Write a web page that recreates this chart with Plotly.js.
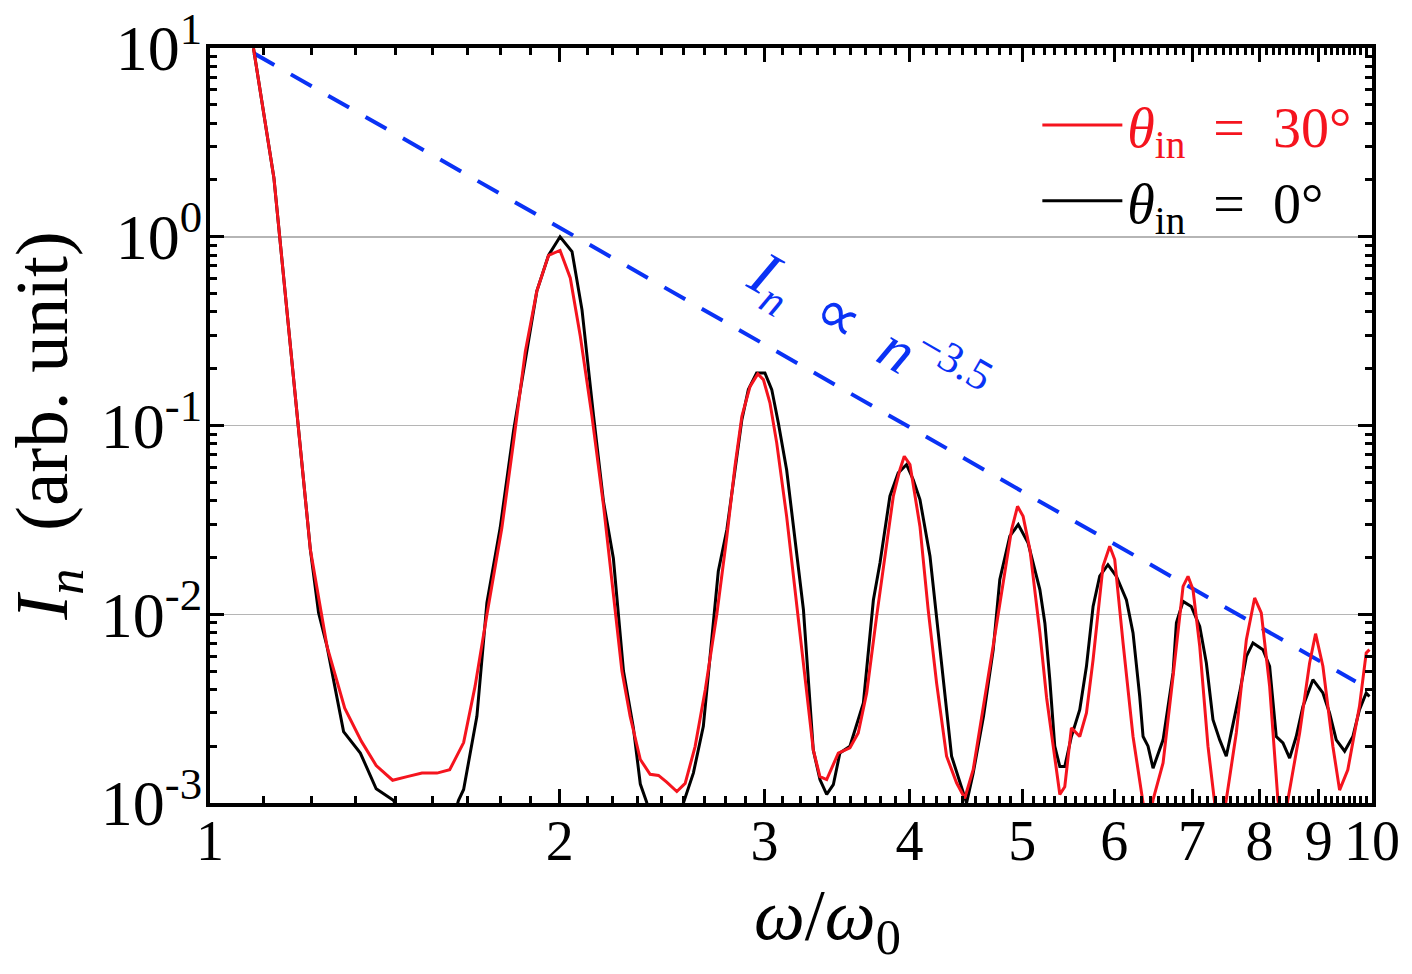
<!DOCTYPE html>
<html>
<head>
<meta charset="utf-8">
<script src="https://cdn.plot.ly/plotly-3.0.1.min.js"></script>
<style>
  html, body { margin: 0; padding: 0; background: #fff; }
  #chart { width: 1412px; height: 974px; }
</style>
</head>
<body>
<div id="chart"></div>
<script>
// harmonic spectrum, theta_in = 0 deg (black)
var x_0deg = [1.090, 1.135, 1.220, 1.240, 1.261, 1.303, 1.347, 1.390, 1.439, 1.478,
  1.522, 1.568, 1.608, 1.636, 1.653, 1.697, 1.731, 1.777, 1.825, 1.875,
  1.911, 1.956, 2.001, 2.049, 2.090, 2.138, 2.181, 2.224, 2.269, 2.314,
  2.346, 2.377, 2.430, 2.510, 2.555, 2.606, 2.658, 2.738, 2.785, 2.869,
  2.906, 2.954, 3.003, 3.044, 3.084, 3.135, 3.241, 3.305, 3.349, 3.394,
  3.439, 3.484, 3.554, 3.650, 3.723, 3.772, 3.847, 3.911, 3.976, 4.029,
  4.083, 4.165, 4.276, 4.347, 4.478, 4.537, 4.631, 4.721, 4.783, 4.879,
  4.961, 5.058, 5.178, 5.230, 5.281, 5.333, 5.387, 5.440, 5.512, 5.604,
  5.679, 5.754, 5.830, 5.926, 6.026, 6.147, 6.228, 6.311, 6.353, 6.416,
  6.480, 6.610, 6.742, 6.787, 6.877, 6.990, 7.108, 7.202, 7.297, 7.395,
  7.492, 7.591, 7.692, 7.796, 7.899, 8.057, 8.164, 8.272, 8.382, 8.494,
  8.606, 8.721, 8.895, 9.073, 9.193, 9.316, 9.472, 9.628, 9.755, 9.886, 9.950];
var y_0deg = [9.97, 2.05, 0.022, 0.0102, 0.00676, 0.00239, 0.00184, 0.00119, 0.00103, 0.0007,
  0.00055, 0.00055, 0.0007, 0.00103, 0.00118, 0.00288, 0.0115, 0.0286, 0.094, 0.259,
  0.515, 0.798, 1.0, 0.835, 0.41, 0.1135, 0.0394, 0.0198, 0.0050, 0.0025,
  0.00126, 0.00100, 0.0007, 0.0007, 0.00100, 0.00144, 0.00255, 0.0169, 0.0281, 0.1074,
  0.155, 0.190, 0.190, 0.155, 0.1032, 0.0583, 0.0106, 0.00191, 0.00133, 0.00111,
  0.00125, 0.00184, 0.0020, 0.00339, 0.0119, 0.0187, 0.0422, 0.0561, 0.0621, 0.0516,
  0.0405, 0.0203, 0.00432, 0.00177, 0.00100, 0.00144, 0.00288, 0.0065, 0.0153, 0.0259,
  0.0299, 0.0239, 0.0135, 0.00897, 0.0045, 0.0020, 0.00156, 0.00156, 0.00225, 0.00312,
  0.0053, 0.0110, 0.0159, 0.0183, 0.0159, 0.0119, 0.00796, 0.00367, 0.00225, 0.0020,
  0.00153, 0.00216, 0.00489, 0.0090, 0.0117, 0.0110, 0.00863, 0.00552, 0.00276, 0.00216,
  0.00177, 0.00255, 0.00383, 0.00598, 0.00705, 0.00649, 0.0053, 0.00225, 0.00208, 0.00173,
  0.00225, 0.00325, 0.0045, 0.00383, 0.0030, 0.00216, 0.00188, 0.00225, 0.00312, 0.00383, 0.00367];

// theta_in = 30 deg (red)
var x_30deg = [1.090, 1.135, 1.220, 1.261, 1.306, 1.350, 1.390, 1.436, 1.478, 1.522,
  1.568, 1.608, 1.653, 1.691, 1.731, 1.783, 1.825, 1.868, 1.911, 1.956,
  2.001, 2.042, 2.083, 2.131, 2.181, 2.217, 2.262, 2.299, 2.346, 2.392,
  2.432, 2.472, 2.522, 2.564, 2.615, 2.668, 2.730, 2.785, 2.830, 2.869,
  2.916, 2.961, 2.994, 3.033, 3.074, 3.135, 3.198, 3.251, 3.305, 3.349,
  3.394, 3.473, 3.554, 3.613, 3.674, 3.747, 3.873, 3.924, 3.958, 4.003,
  4.083, 4.150, 4.220, 4.304, 4.390, 4.462, 4.537, 4.720, 4.896, 4.954,
  5.009, 5.077, 5.178, 5.248, 5.352, 5.387, 5.440, 5.512, 5.604, 5.679,
  5.754, 5.868, 5.947, 6.006, 6.106, 6.228, 6.353, 6.410, 6.480, 6.610,
  6.742, 6.877, 6.945, 7.014, 7.108, 7.225, 7.322, 7.400, 7.492, 7.642,
  7.796, 7.925, 8.030, 8.164, 8.299, 8.380, 8.465, 8.664, 8.837, 8.942,
  9.073, 9.254, 9.378, 9.532, 9.755, 9.886, 9.950];
var y_30deg = [9.97, 2.05, 0.022, 0.00676, 0.00318, 0.00212, 0.00158, 0.00132, 0.00138, 0.00144,
  0.00144, 0.0015, 0.00209, 0.00416, 0.00995, 0.0286, 0.0822, 0.247, 0.515, 0.798,
  0.846, 0.605, 0.297, 0.1135, 0.0377, 0.0157, 0.0050, 0.00288, 0.0017, 0.00142,
  0.0014, 0.00129, 0.00115, 0.00127, 0.00199, 0.00397, 0.0100, 0.0259, 0.0608, 0.112,
  0.161, 0.1877, 0.175, 0.1318, 0.0809, 0.0330, 0.01148, 0.0045, 0.00191, 0.00138,
  0.00133, 0.00184, 0.00196, 0.00235, 0.00383, 0.00975, 0.0422, 0.0583, 0.0687, 0.0621,
  0.0292, 0.01057, 0.00432, 0.00177, 0.00128, 0.00106, 0.0015, 0.00676, 0.0281, 0.0373,
  0.0330, 0.0220, 0.0080, 0.0036, 0.00156, 0.00111, 0.00122, 0.0025, 0.00225, 0.0030,
  0.00574, 0.01795, 0.0229, 0.0195, 0.00705, 0.00225, 0.0010, 0.0007, 0.00104, 0.00163,
  0.00469, 0.01406, 0.01589, 0.01349, 0.00676, 0.0020, 0.0010, 0.0007, 0.00104, 0.00235,
  0.00733, 0.0122, 0.01016, 0.00415, 0.00104, 0.0007, 0.00104, 0.00235, 0.00552, 0.00789,
  0.0053, 0.0020, 0.00117, 0.0015, 0.00325, 0.00624, 0.00649];

// guide line I_n ~ n^-3.5 (end points)
var x_fit = [1.09, 9.68];
var y_fit = [9.4, 0.0044];

var x_ticks = [1, 2, 3, 4, 5, 6, 7, 8, 9, 10];
var x_labels = ['1', '2', '3', '4', '5', '6', '7', '8', '9', '10'];
var y_ticks = [0.001, 0.01, 0.1, 1, 10];
var y_labels = ['10<sup>-3</sup>', '10<sup>-2</sup>', '10<sup>-1</sup>', '10<sup>0</sup>', '10<sup>1</sup>'];

// minor ticks: 8 per unit on x, 2..9 per decade on y
var xMinor = [];
for (var n = 1; n < 10; n++) {
  for (var j = 1; j < 9; j++) xMinor.push(n + j / 9);
}
var yMinor = [];
for (var d = -3; d < 1; d++) {
  for (var k = 2; k < 10; k++) yMinor.push(k * Math.pow(10, d));
}

var FONT = 'Liberation Serif, Times New Roman, serif';
var RED = '#f5141e';
var BLUE = '#0a32f5';
var SP = '\u2002';

var data = [
  {
    x: x_fit, y: y_fit, mode: 'lines', showlegend: false, hoverinfo: 'skip',
    line: { color: BLUE, width: 4, dash: '24px,19px' }
  },
  {
    x: x_0deg, y: y_0deg, mode: 'lines', name: '<i>θ</i><sub>in</sub>' + SP + '=' + SP + '0°',
    line: { color: '#000000', width: 3 }
  },
  {
    x: x_30deg, y: y_30deg, mode: 'lines',
    name: '<span style="color:' + RED + '"><i>θ</i><sub>in</sub>' + SP + '=' + SP + '30°</span>',
    line: { color: RED, width: 3 }
  }
];

var layout = {
  width: 1412, height: 974,
  margin: { l: 210, r: 40, t: 48, b: 171 },
  paper_bgcolor: '#ffffff', plot_bgcolor: '#ffffff',
  font: { family: FONT, color: '#000000' },
  showlegend: true,
  legend: {
    x: 0.712, y: 0.955, xanchor: 'left', yanchor: 'top',
    traceorder: 'reversed', bgcolor: 'rgba(0,0,0,0)',
    font: { family: FONT, size: 56, color: '#000000' },
    itemwidth: 80, tracegroupgap: 0
  },
  xaxis: {
    type: 'log', range: [0, 1],
    tickmode: 'array', tickvals: x_ticks, ticktext: x_labels,
    ticks: 'inside', ticklen: 14, tickwidth: 3, tickcolor: '#000',
    minor: { tickmode: 'array', tickvals: xMinor, ticks: 'inside', ticklen: 7, tickwidth: 3, tickcolor: '#000', showgrid: false },
    showline: true, linecolor: '#000', linewidth: 4, mirror: 'allticks',
    showgrid: false, zeroline: false,
    tickfont: { family: FONT, size: 56, color: '#000' },
    ticklabelstandoff: -14
  },
  yaxis: {
    type: 'log', range: [-3, 1],
    tickmode: 'array', tickvals: y_ticks, ticktext: y_labels,
    ticks: 'inside', ticklen: 14, tickwidth: 3, tickcolor: '#000',
    minor: { tickmode: 'array', tickvals: yMinor, ticks: 'inside', ticklen: 7, tickwidth: 3, tickcolor: '#000', showgrid: false },
    showline: true, linecolor: '#000', linewidth: 4, mirror: 'allticks',
    showgrid: true, gridcolor: '#b5b5b5', gridwidth: 1.5, zeroline: false,
    tickfont: { family: FONT, size: 64, color: '#000' },
    ticklabelstandoff: -9,
    title: { text: '<i>I<sub>n</sub></i>' + SP + '(arb. unit)', font: { family: FONT, size: 75, color: '#000' }, standoff: 12 }
  },
  annotations: [
    {
      // x axis title, set off-centre like the original
      xref: 'paper', yref: 'paper', x: 0.531, y: -0.155, yanchor: 'middle',
      text: '<i>ω</i>/<i>ω</i><sub>0</sub>',
      showarrow: false,
      font: { family: FONT, size: 72, color: '#000' }
    },
    {
      xref: 'paper', yref: 'paper', x: 0.566, y: 0.625,
      text: '<i>I<sub>n</sub></i>' + SP + '∝' + SP + '<i>n</i><sup>−3.5</sup>',
      showarrow: false, textangle: 30,
      font: { family: FONT, size: 62, color: BLUE }
    }
  ]
};

Plotly.newPlot('chart', data, layout, { displayModeBar: false, staticPlot: true });
</script>
</body>
</html>
